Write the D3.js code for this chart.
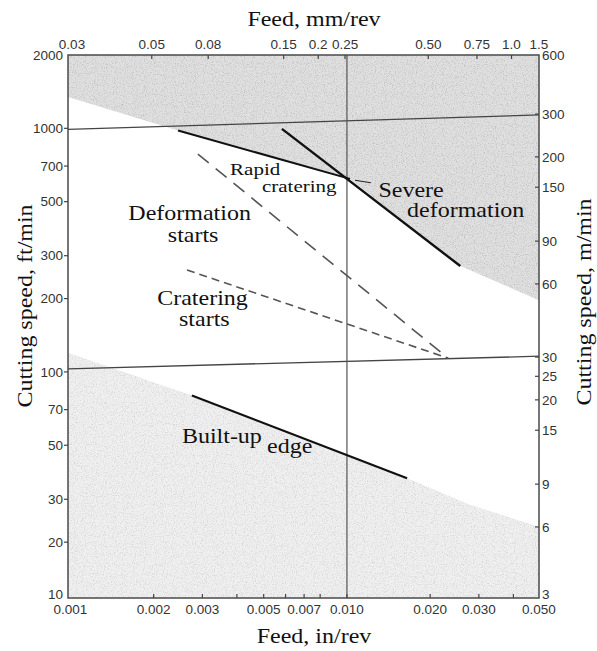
<!DOCTYPE html>
<html>
<head>
<meta charset="utf-8">
<script src="https://cdn.jsdelivr.net/npm/d3@7"></script>
<style>
  body { margin: 0; background: #fff; }
  svg { display: block; }
</style>
</head>
<body>
<div id="chart"></div>
<script>
// axis limits (feed in in/rev, speed in ft/min and m/min)
const FEED_MIN = 0.00098, FEED_MAX = 0.0495;
const SPEED_MIN = 11.8, SPEED_MAX = 2000;
const MPM_MIN = 3.06, MPM_MAX = 525;
const MM_PER_IN = 25.4;

// tick labels
const feedInTicks = ["0.001", "0.002", "0.003", "0.005", "0.007", "0.010", "0.020", "0.030", "0.050"];
const feedInMinor = [0.004, 0.006, 0.008, 0.04];
const feedMmTicks = ["0.03", "0.05", "0.08", "0.15", "0.2", "0.25", "0.50", "0.75", "1.0", "1.5"];
const speedFtTicks = ["10", "20", "30", "50", "70", "100", "200", "300", "500", "700", "1000", "2000"];
const speedMTicks = ["3", "6", "9", "15", "20", "25", "30", "60", "90", "150", "200", "300", "600"];

// lines [feed in/rev, speed ft/min]
const boundaryHigh = [[FEED_MIN, 990], [FEED_MAX, 1135]];
const boundaryLow = [[FEED_MIN, 103], [FEED_MAX, 116]];
const feedMark = 0.010;
const rapidCratering = [[0.00245, 980], [0.01026, 620]];
const severeDeformation = [[0.00582, 995], [0.0257, 272]];
const deformationStarts = [[0.00289, 784], [0.0232, 114]];
const crateringStarts = [[0.00264, 262], [0.0232, 114]];
const builtUpEdge = [[0.00275, 80], [0.0165, 36.6]];

// shaded zones
const upperZone = [[FEED_MIN, SPEED_MAX], [FEED_MIN, 1345], [0.00245, 980], [0.01026, 620],
                   [0.0257, 272], [FEED_MAX, 197], [FEED_MAX, SPEED_MAX]];
const lowerZone = [[FEED_MIN, 120], [0.00275, 80], [0.0165, 36.6], [0.0279, 28.5],
                   [FEED_MAX, 23.1], [FEED_MAX, SPEED_MIN], [FEED_MIN, SPEED_MIN]];

// region notes
const notes = [
  {text: "Rapid", feed: 0.00378, speed: 644, size: 17.5},
  {text: "cratering", feed: 0.00493, speed: 548, size: 17.5},
  {text: "Severe", feed: 0.0130, speed: 522, size: 20},
  {text: "deformation", feed: 0.0165, speed: 432, size: 20},
  {text: "Deformation", feed: 0.00162, speed: 420, size: 20},
  {text: "starts", feed: 0.00225, speed: 342, size: 20},
  {text: "Cratering", feed: 0.00206, speed: 189, size: 20},
  {text: "starts", feed: 0.00247, speed: 155, size: 20},
  {text: "Built-up", feed: 0.00253, speed: 51, size: 20},
  {text: "edge", feed: 0.00514, speed: 46.5, size: 20}
];

const width = 597, height = 651;
const plotL = 68, plotR = 539, plotT = 55, plotB = 598;
const serif = "'Liberation Serif', 'Times New Roman', serif";
const sans = "'Liberation Sans', Arial, sans-serif";
const stretch = 1.2;

const svg = d3.select("#chart").append("svg")
    .attr("width", width)
    .attr("height", height);

const x = d3.scaleLog().domain([FEED_MIN, FEED_MAX]).range([plotL, plotR]).clamp(true);
const xTop = d3.scaleLog().domain([FEED_MIN * MM_PER_IN, FEED_MAX * MM_PER_IN]).range([plotL, plotR]).clamp(true);
const y = d3.scaleLog().domain([SPEED_MIN, SPEED_MAX]).range([plotB, plotT]).clamp(true);
const yRight = d3.scaleLog().domain([MPM_MIN, MPM_MAX]).range([plotB, plotT]).clamp(true);

const line = d3.line().x(d => x(d[0])).y(d => y(d[1]));

// grainy fill for the shaded zones
const defs = svg.append("defs");
const grain = defs.append("filter").attr("id", "grain")
    .attr("x", 0).attr("y", 0).attr("width", 1).attr("height", 1);
grain.append("feTurbulence")
    .attr("type", "fractalNoise").attr("baseFrequency", 0.9)
    .attr("numOctaves", 2).attr("seed", 4).attr("result", "noise");
grain.append("feColorMatrix")
    .attr("in", "noise").attr("type", "matrix")
    .attr("values", "0 0 0 0 0.5  0 0 0 0 0.5  0 0 0 0 0.5  0 0 0 2.6 -1.2")
    .attr("result", "dots");
grain.append("feComposite")
    .attr("in", "dots").attr("in2", "SourceGraphic").attr("operator", "in");

const zones = [
  {pts: upperZone, fill: "#e0e0e0", grain: 0.9},
  {pts: lowerZone, fill: "#f0f0f0", grain: 0.55}
];
zones.forEach(z => {
  svg.append("path").attr("d", line(z.pts) + "Z").attr("fill", z.fill);
  svg.append("path").attr("d", line(z.pts) + "Z").attr("fill", "#000")
      .attr("opacity", z.grain).attr("filter", "url(#grain)");
});

// guide lines
svg.append("path").attr("d", line(boundaryHigh))
    .attr("fill", "none").attr("stroke", "#444").attr("stroke-width", 1.3);
svg.append("path").attr("d", line(boundaryLow))
    .attr("fill", "none").attr("stroke", "#444").attr("stroke-width", 1.3);
svg.append("line")
    .attr("x1", x(feedMark)).attr("x2", x(feedMark))
    .attr("y1", plotT).attr("y2", plotB)
    .attr("stroke", "#555").attr("stroke-width", 1.2);

// solid boundaries
[[rapidCratering, 2], [severeDeformation, 2.4], [builtUpEdge, 2.2]].forEach(([pts, w]) => {
  svg.append("path").attr("d", line(pts))
      .attr("fill", "none").attr("stroke", "#111").attr("stroke-width", w);
});

// dashed onset lines
svg.append("path").attr("d", line(deformationStarts))
    .attr("fill", "none").attr("stroke", "#555").attr("stroke-width", 1.6)
    .attr("stroke-dasharray", "14,9");
svg.append("path").attr("d", line(crateringStarts))
    .attr("fill", "none").attr("stroke", "#555").attr("stroke-width", 1.6)
    .attr("stroke-dasharray", "8,5");

// little pointer from the label to the intersection
svg.append("line")
    .attr("x1", x(0.0122)).attr("y1", y(598))
    .attr("x2", x(0.0107)).attr("y2", y(612))
    .attr("stroke", "#222").attr("stroke-width", 1.2);

// frame
svg.append("rect")
    .attr("x", plotL).attr("y", plotT)
    .attr("width", plotR - plotL).attr("height", plotB - plotT)
    .attr("fill", "none").attr("stroke", "#4a4a4a").attr("stroke-width", 1.5);

// bottom axis
const bx = svg.append("g");
bx.selectAll("line")
    .data(feedInTicks.slice(1, -1).map(Number).concat(feedInMinor))
    .join("line")
    .attr("x1", d => x(d)).attr("x2", d => x(d))
    .attr("y1", plotB).attr("y2", plotB - 4)
    .attr("stroke", "#444").attr("stroke-width", 1.2);
bx.selectAll("text")
    .data(feedInTicks)
    .join("text")
    .attr("x", d => x(+d)).attr("y", plotB + 16)
    .attr("text-anchor", "middle")
    .attr("font-family", sans).attr("font-size", 13.5).attr("fill", "#333")
    .text(d => d);

// top axis
const tx = svg.append("g");
const topPos = (d, i) => i === 0 ? plotL + 4 : i === feedMmTicks.length - 1 ? plotR : xTop(+d);
tx.selectAll("line")
    .data(feedMmTicks.slice(1, -1))
    .join("line")
    .attr("x1", d => xTop(+d)).attr("x2", d => xTop(+d))
    .attr("y1", plotT).attr("y2", plotT + 4)
    .attr("stroke", "#444").attr("stroke-width", 1.2);
tx.selectAll("text")
    .data(feedMmTicks)
    .join("text")
    .attr("x", topPos).attr("y", plotT - 6)
    .attr("text-anchor", "middle")
    .attr("font-family", sans).attr("font-size", 13.5).attr("fill", "#333")
    .text(d => d);

// left axis
const lx = svg.append("g");
lx.selectAll("line")
    .data(speedFtTicks.slice(1, -1))
    .join("line")
    .attr("x1", plotL).attr("x2", plotL - 4)
    .attr("y1", d => y(+d)).attr("y2", d => y(+d))
    .attr("stroke", "#444").attr("stroke-width", 1.2);
lx.selectAll("text")
    .data(speedFtTicks)
    .join("text")
    .attr("x", plotL - 5).attr("y", d => y(+d))
    .attr("dy", (d, i) => i === 0 ? "0.1em" : "0.35em")
    .attr("text-anchor", "end")
    .attr("font-family", sans).attr("font-size", 13.5).attr("fill", "#333")
    .text(d => d);

// right axis
const rx = svg.append("g");
rx.selectAll("line")
    .data(speedMTicks.slice(1, -1))
    .join("line")
    .attr("x1", plotR).attr("x2", plotR - 4)
    .attr("y1", d => yRight(+d)).attr("y2", d => yRight(+d))
    .attr("stroke", "#444").attr("stroke-width", 1.2);
rx.selectAll("text")
    .data(speedMTicks)
    .join("text")
    .attr("x", plotR + 3).attr("y", d => yRight(+d))
    .attr("dy", (d, i) => i === 0 ? "0.05em" : "0.35em")
    .attr("text-anchor", "start")
    .attr("font-family", sans).attr("font-size", 13.5).attr("fill", "#333")
    .text(d => d);

// notes inside the plot
svg.append("g").selectAll("text")
    .data(notes)
    .join("text")
    .attr("transform", d => `translate(${x(d.feed)},${y(d.speed)}) scale(${stretch},1)`)
    .attr("font-family", serif).attr("font-size", d => d.size).attr("fill", "#111")
    .text(d => d.text);

// axis titles
const title = (txt, px, py, rot) => svg.append("text")
    .attr("transform", `translate(${px},${py}) rotate(${rot}) scale(${stretch},1)`)
    .attr("text-anchor", "middle")
    .attr("font-family", serif).attr("font-size", 20).attr("fill", "#111")
    .text(txt);

title("Feed, mm/rev", 314, 26, 0);
title("Feed, in/rev", 314, 643, 0);
title("Cutting speed, ft/min", 32, 306, -90);
title("Cutting speed, m/min", 591, 302, -90);
</script>
</body>
</html>
